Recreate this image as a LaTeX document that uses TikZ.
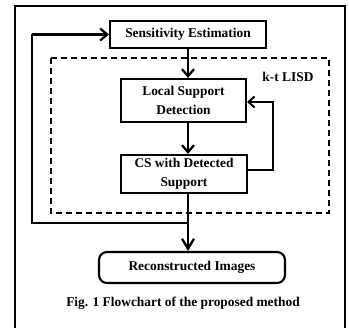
\documentclass[tikz,border=0pt]{standalone}
\usepackage{fontspec}
\setmainfont{Liberation Serif}
\usetikzlibrary{arrows.meta,calc}
\begin{document}
\begin{tikzpicture}[x=1pt,y=-1pt,
  txt/.style={font=\fontsize{13.4}{18.5}\selectfont\bfseries},
  box/.style={txt,draw,line width=2.1pt,inner sep=0pt,align=center},
  arr/.style={line width=2.8pt,-{Straight Barb[length=7pt,width=12pt,line width=2.3pt]}},
  fb/.style={line width=1.9pt,-{Straight Barb[length=6pt,width=11pt,line width=2pt]}}]
\useasboundingbox (0,0) rectangle (349,328);
\begin{scope}
\clip (0,0) rectangle (349,328);
\draw[line width=2pt] (15,345) -- (15,6) -- (345,6) -- (345,345);
\end{scope}
\draw[line width=2.3pt,dash pattern=on 6pt off 4pt] (51,58) rectangle (329,213);
\node[txt] (lisd) at (288,77) {k-t LISD};
\node[box,minimum width=156pt,minimum height=27pt] (sens) at (188,34.5) {Sensitivity Estimation};
\node[box,minimum width=125pt,minimum height=43pt] (lsd) at (183.5,100.5) {Local Support\\Detection};
\node[box,minimum width=126pt,minimum height=38pt] (cs) at (184,174) {CS with Detected\\Support};
\node[box,rounded corners=8pt,minimum width=186pt,minimum height=31pt] (rec) at (192,267.5) {Reconstructed Images};
\node[txt] (cap) at (183,303) {Fig. 1 Flowchart of the proposed method};
\coordinate (ax) at (188,0);
\coordinate (loop) at (188,223);
\draw[arr] (sens.south -| ax) -- (lsd.north -| ax);
\draw[arr] (lsd.south -| ax) -- (cs.north -| ax);
\draw[arr,-{Straight Barb[length=10pt,width=12pt,line width=2.3pt]}] (cs.south -| ax) -- (rec.north -| ax);
\draw[line width=2.1pt] (loop) -- (32,223) -- (32,34.5) coordinate (lt);
\draw[arr] (lt) -- (sens.west);
\draw[fb] (cs.east |- 0,170) -- (273,170) -- (273,102) -- (lsd.east |- 0,102);
\end{tikzpicture}
\end{document}
